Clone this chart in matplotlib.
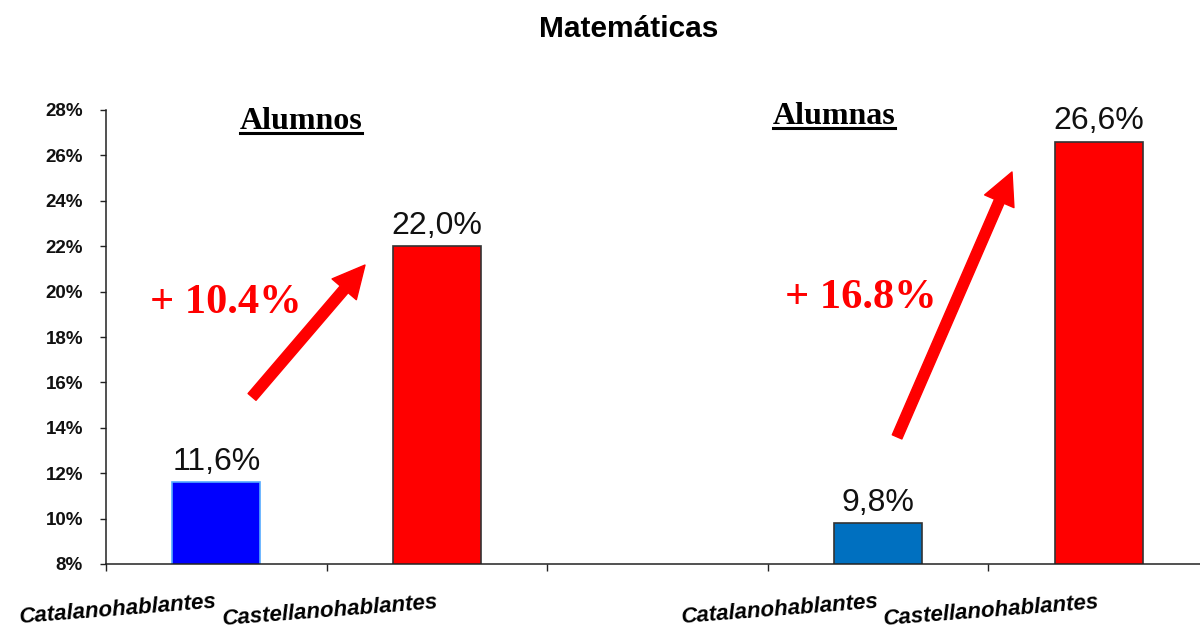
import matplotlib
matplotlib.use('Agg')
import matplotlib.pyplot as plt
from matplotlib.lines import Line2D

# datos
categorias = ['Catalanohablantes', 'Castellanohablantes', '', 'Catalanohablantes', 'Castellanohablantes']
posiciones = [0, 1, 3, 4]
valores = [11.6, 22.0, 9.8, 26.6]
etiquetas = ['11,6%', '22,0%', '9,8%', '26,6%']
colores = ['#0000FF', '#FF0000', '#0070C0', '#FF0000']
bordes = ['#55AAFF', '#333333', '#333333', '#333333']
y_ticks = list(range(8, 29, 2))
grupos = ['Alumnos', 'Alumnas']
diferencias = ['+ 10.4%', '+ 16.8%']

W, H = 1200, 632
fig = plt.figure(figsize=(12, 6.32), dpi=100)
ax = fig.add_axes([106 / W, 68 / H, 1103 / W, 454 / H])

ax.bar(posiciones, valores, width=0.4, color=colores, edgecolor=bordes, linewidth=1.2, zorder=2)

ax.set_xlim(-0.5, len(categorias) - 0.5)
ax.set_ylim(8, 28)

# ejes
for s in ['top', 'right']:
    ax.spines[s].set_visible(False)
for s in ['left', 'bottom']:
    ax.spines[s].set_color('#222222')
    ax.spines[s].set_linewidth(1.1)

ax.set_yticks(y_ticks)
ax.set_yticklabels([f'{v}%' for v in y_ticks], fontsize=13.5, fontweight='bold', family='Liberation Sans')
ax.tick_params(axis='y', direction='out', length=4.5, width=1, pad=12, colors='#222222', labelcolor='#111111')

ax.set_xticks([i - 0.5 for i in range(len(categorias) + 1)])
ax.set_xticklabels([])
ax.tick_params(axis='x', which='major', direction='out', length=5, width=1, colors='#222222')
ax.set_xticks(range(len(categorias)), minor=True)
ax.set_xticklabels(categorias, minor=True, fontsize=16, fontweight='bold', style='italic',
                   family='Liberation Sans', rotation=4.5, ha='right', va='top', rotation_mode='anchor')
ax.tick_params(axis='x', which='minor', length=0, pad=20)

# valores sobre las barras
for x, v, t in zip(posiciones, valores, etiquetas):
    ax.annotate(t, (x, v), xytext=(0, 9), textcoords='offset points', ha='center', va='baseline',
                fontsize=23, family='Liberation Sans', color='#111111')

# titulo
fig.text(629 / W, 1 - 37 / H, 'Matemáticas', ha='center', va='baseline', fontsize=21.5,
         fontweight='bold', family='Liberation Sans')

# subtitulos subrayados
textos = []
for g, (x, y) in zip(grupos, [(0.384, 27.16), (2.80, 27.38)]):
    t = ax.text(x, y, g, ha='center', va='baseline', fontsize=23, fontweight='bold',
                family='Liberation Serif', clip_on=False)
    textos.append(t)

fig.canvas.draw()
r = fig.canvas.get_renderer()
for t in textos:
    bb = t.get_window_extent(r)
    xb, yb = ax.transData.transform(t.get_position())
    yl = (yb - 4) / H
    fig.add_artist(Line2D([bb.x0 / W, bb.x1 / W], [yl, yl], color='black', linewidth=2.2))

# diferencias en rojo
for d, (x, y) in zip(diferencias, [(0.044, 19.06), (2.922, 19.28)]):
    ax.text(x, y, d, ha='center', va='baseline', fontsize=30.5, fontweight='bold',
            family='Liberation Serif', color='#FF0000', clip_on=False)

# flechas
flechas = [((0.162, 15.36), (0.674, 21.17)), ((3.086, 13.6), (3.607, 25.27))]
for cola, punta in flechas:
    ax.annotate('', xy=punta, xytext=cola,
                arrowprops=dict(facecolor='#FF0000', edgecolor='#FF0000', width=7.5,
                                headwidth=23, headlength=23, shrink=0))

fig.savefig('out.png', dpi=100, facecolor='white')
